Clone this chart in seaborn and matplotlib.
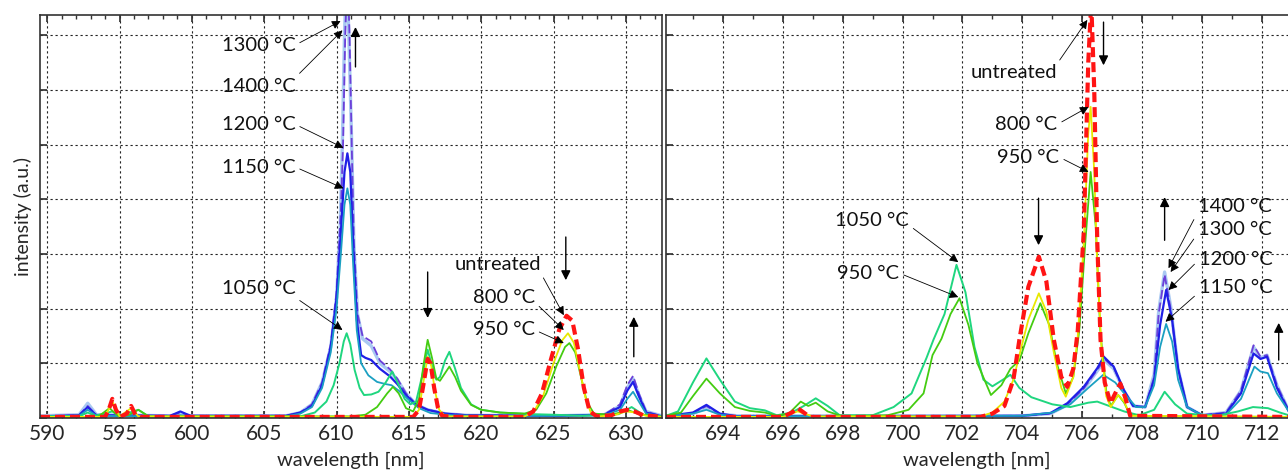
import pandas as pd
import matplotlib
matplotlib.use("Agg")
import matplotlib.pyplot as plt
from matplotlib.ticker import MultipleLocator
import seaborn as sns

# ---- spectra: (wavelength nm, intensity a.u.) ----
left_untreated = [(589.5, 0.02), (594.0, 0.02), (594.25, 0.15), (594.5, 0.35), (594.75, 0.15), (595.05, 0.02),
                  (595.5, 0.08), (595.8, 0.22), (596.1, 0.06), (596.4, 0.02), (615.3, 0.02), (615.7, 0.15),
                  (616.0, 0.6), (616.3, 1.08), (616.5, 1.0), (616.75, 0.55), (617.0, 0.2), (617.3, 0.04),
                  (618.0, 0.02), (623.0, 0.02), (623.6, 0.12), (624.2, 0.45), (624.8, 1.05), (625.4, 1.62),
                  (625.9, 1.87), (626.3, 1.78), (626.7, 1.25), (627.1, 0.55), (627.5, 0.12), (628.0, 0.03),
                  (629.0, 0.05), (629.6, 0.12), (630.1, 0.15), (630.6, 0.12), (631.2, 0.05), (632.5, 0.02)]
left_800 = [(589.5, 0.02), (594.0, 0.02), (594.5, 0.3), (595.0, 0.03), (595.8, 0.18), (596.3, 0.03),
            (615.3, 0.02), (615.7, 0.15), (616.0, 0.65), (616.3, 1.12), (616.55, 0.95), (616.8, 0.5),
            (617.1, 0.15), (617.5, 0.03), (623.0, 0.03), (623.6, 0.1), (624.3, 0.42), (625.0, 1.0),
            (625.6, 1.42), (626.0, 1.55), (626.4, 1.38), (626.8, 0.9), (627.2, 0.38), (627.6, 0.08),
            (628.2, 0.03), (629.3, 0.06), (630.0, 0.12), (630.7, 0.1), (631.4, 0.04), (632.5, 0.02)]
left_950 = [(589.5, 0.02), (593.5, 0.02), (594.3, 0.18), (594.9, 0.04), (595.6, 0.05), (596.3, 0.15),
            (597.0, 0.03), (611.0, 0.03), (612.0, 0.06), (612.8, 0.2), (613.5, 0.45), (613.9, 0.57),
            (614.3, 0.45), (614.8, 0.18), (615.3, 0.12), (615.7, 0.35), (616.0, 0.95), (616.3, 1.43),
            (616.6, 1.1), (616.9, 0.72), (617.15, 0.68), (617.5, 0.82), (617.8, 0.94), (618.2, 0.75),
            (618.6, 0.5), (619.3, 0.24), (620.0, 0.15), (621.3, 0.1), (623.0, 0.08), (623.8, 0.15),
            (624.5, 0.45), (625.2, 0.95), (625.8, 1.3), (626.1, 1.37), (626.5, 1.2), (626.9, 0.75),
            (627.3, 0.3), (627.8, 0.08), (629.0, 0.06), (630.2, 0.14), (631.0, 0.06), (632.5, 0.02)]
left_1050 = [(589.5, 0.03), (592.3, 0.04), (592.8, 0.1), (593.3, 0.04), (594.5, 0.12), (595.0, 0.04),
             (596.3, 0.15), (597.0, 0.03), (607.5, 0.03), (608.5, 0.1), (609.3, 0.3), (609.8, 0.6),
             (610.2, 1.0), (610.5, 1.4), (610.7, 1.55), (610.95, 1.35), (611.25, 0.88), (611.6, 0.55),
             (611.9, 0.42), (612.4, 0.43), (612.9, 0.48), (613.4, 0.65), (613.85, 0.85), (614.3, 0.6),
             (614.7, 0.35), (615.1, 0.25), (615.5, 0.3), (615.9, 0.75), (616.3, 1.25), (616.6, 0.95),
             (616.9, 0.7), (617.15, 0.75), (617.5, 1.05), (617.8, 1.21), (618.2, 0.9), (618.6, 0.55),
             (619.3, 0.25), (620.0, 0.15), (621.3, 0.1), (623.5, 0.07), (625.0, 0.06), (627.0, 0.04),
             (629.5, 0.07), (630.4, 0.2), (631.2, 0.06), (632.5, 0.03)]
left_1150 = [(589.5, 0.03), (592.2, 0.04), (592.8, 0.15), (593.4, 0.04), (598.5, 0.03), (599.2, 0.05),
             (599.9, 0.03), (606.5, 0.03), (607.5, 0.08), (608.3, 0.2), (609.0, 0.55), (609.6, 1.2),
             (610.0, 2.0), (610.3, 3.0), (610.55, 3.9), (610.75, 4.2), (610.95, 3.9), (611.15, 2.8),
             (611.4, 1.6), (611.7, 1.0), (612.2, 0.78), (612.8, 0.66), (613.4, 0.62), (613.8, 0.6),
             (614.3, 0.5), (615.0, 0.33), (615.7, 0.18), (616.5, 0.09), (618.0, 0.05), (620.0, 0.04),
             (625.0, 0.04), (628.5, 0.05), (629.6, 0.15), (630.1, 0.35), (630.5, 0.48), (630.9, 0.3),
             (631.4, 0.08), (632.5, 0.03)]
left_1200 = [(589.5, 0.03), (592.2, 0.05), (592.8, 0.2), (593.4, 0.05), (598.5, 0.04), (599.2, 0.12),
             (599.9, 0.04), (606.5, 0.04), (607.5, 0.1), (608.3, 0.22), (609.0, 0.6), (609.6, 1.3),
             (610.0, 2.2), (610.3, 3.4), (610.55, 4.5), (610.75, 4.84), (610.95, 4.5), (611.15, 3.2),
             (611.4, 1.8), (611.7, 1.15), (612.0, 1.1), (612.4, 1.06), (613.0, 0.9), (613.7, 0.76),
             (614.2, 0.62), (614.8, 0.42), (615.5, 0.24), (616.3, 0.15), (617.5, 0.08), (619.0, 0.05),
             (625.0, 0.04), (628.5, 0.06), (629.6, 0.2), (630.1, 0.5), (630.5, 0.66), (630.9, 0.4),
             (631.4, 0.1), (632.5, 0.03)]
left_1300 = [(589.5, 0.03), (592.2, 0.05), (592.8, 0.22), (593.4, 0.05), (598.5, 0.04), (599.2, 0.1),
             (599.9, 0.04), (606.5, 0.04), (607.5, 0.1), (608.3, 0.25), (609.0, 0.65), (609.6, 1.35),
             (610.0, 2.3), (610.3, 3.8), (610.45, 5.0), (610.6, 7.0), (610.75, 8.2), (610.9, 7.0),
             (611.05, 5.0), (611.2, 3.2), (611.45, 1.9), (611.8, 1.5), (612.4, 1.4), (613.0, 1.05),
             (613.7, 0.89), (614.2, 0.72), (614.8, 0.45), (615.5, 0.25), (616.3, 0.15), (617.5, 0.08),
             (619.0, 0.05), (625.0, 0.04), (628.5, 0.06), (629.6, 0.25), (630.1, 0.6), (630.5, 0.77),
             (630.9, 0.45), (631.4, 0.12), (632.5, 0.03)]
left_1400 = [(589.5, 0.04), (592.2, 0.06), (592.8, 0.27), (593.4, 0.06), (598.5, 0.04), (599.2, 0.08),
             (599.9, 0.04), (606.5, 0.04), (607.5, 0.1), (608.3, 0.25), (609.0, 0.65), (609.6, 1.3),
             (610.0, 2.2), (610.25, 3.5), (610.4, 5.0), (610.55, 7.0), (610.7, 8.3), (610.85, 7.0),
             (611.05, 5.0), (611.2, 3.2), (611.45, 1.9), (611.8, 1.45), (612.4, 1.32), (613.0, 1.0),
             (613.7, 0.85), (614.2, 0.7), (614.8, 0.45), (615.5, 0.25), (616.3, 0.15), (617.5, 0.08),
             (619.0, 0.05), (625.0, 0.04), (628.5, 0.06), (629.6, 0.22), (630.1, 0.55), (630.5, 0.72),
             (630.9, 0.42), (631.4, 0.12), (632.5, 0.04)]

right_untreated = [(692.1, 0.02), (696.0, 0.02), (696.3, 0.1), (696.5, 0.18), (696.7, 0.1), (696.9, 0.02),
                   (702.6, 0.02), (703.0, 0.08), (703.4, 0.22), (703.7, 0.7), (703.9, 1.43), (704.2, 2.4),
                   (704.55, 2.95), (704.8, 2.5), (705.05, 1.43), (705.3, 0.75), (705.5, 0.57), (705.7, 0.9),
                   (705.85, 1.6), (706.05, 3.4), (706.2, 6.5), (706.3, 7.6), (706.4, 6.0), (706.5, 3.25),
                   (706.61, 1.43), (706.75, 0.65), (706.94, 0.27), (707.1, 0.45), (707.27, 0.63),
                   (707.45, 0.35), (707.6, 0.04), (712.9, 0.02)]
right_800 = [(692.1, 0.02), (696.0, 0.02), (696.5, 0.12), (697.0, 0.03), (702.6, 0.03), (703.0, 0.1),
             (703.4, 0.3), (703.7, 0.7), (703.9, 1.15), (704.2, 1.8), (704.55, 2.28), (704.8, 1.95),
             (705.05, 1.2), (705.3, 0.55), (705.45, 0.39), (705.7, 0.75), (705.85, 1.5), (706.05, 3.2),
             (706.2, 5.2), (706.28, 5.69), (706.4, 4.5), (706.5, 2.8), (706.65, 1.2), (706.8, 0.4),
             (706.95, 0.2), (707.2, 0.42), (707.4, 0.3), (707.6, 0.04), (712.9, 0.02)]
right_950 = [(692.1, 0.04), (692.6, 0.1), (693.0, 0.4), (693.45, 0.72), (693.9, 0.45), (694.4, 0.2),
             (694.9, 0.13), (695.4, 0.1), (695.8, 0.04), (696.2, 0.08), (696.6, 0.3), (696.85, 0.22),
             (697.1, 0.28), (697.5, 0.12), (698.0, 0.03), (699.5, 0.05), (700.2, 0.15), (700.7, 0.45),
             (701.0, 1.15), (701.3, 1.45), (701.6, 1.9), (701.9, 2.19), (702.2, 1.7), (702.5, 1.0),
             (702.95, 0.42), (703.3, 0.6), (703.6, 0.9), (703.9, 1.05), (704.2, 1.55), (704.6, 2.1),
             (704.9, 1.7), (705.15, 1.0), (705.45, 0.45), (705.7, 0.75), (705.9, 1.6), (706.1, 3.2),
             (706.28, 4.5), (706.45, 3.5), (706.6, 1.6), (706.8, 0.5), (706.95, 0.22), (707.2, 0.42),
             (707.4, 0.28), (707.6, 0.05), (708.3, 0.03), (712.9, 0.02)]
right_1050 = [(692.1, 0.04), (692.5, 0.12), (693.0, 0.65), (693.45, 1.09), (693.9, 0.7), (694.4, 0.3),
              (694.9, 0.18), (695.4, 0.14), (695.8, 0.05), (696.3, 0.1), (696.7, 0.22), (697.1, 0.36),
              (697.5, 0.22), (697.9, 0.05), (699.0, 0.05), (699.7, 0.2), (700.3, 0.45), (700.8, 1.1),
              (701.03, 1.43), (701.4, 1.9), (701.8, 2.8), (702.1, 2.3), (702.4, 1.3), (702.7, 0.7),
              (703.0, 0.58), (703.35, 0.7), (703.6, 0.79), (703.9, 0.55), (704.3, 0.38), (705.0, 0.25),
              (705.6, 0.2), (706.2, 0.28), (706.5, 0.3), (706.9, 0.22), (707.4, 0.12), (707.9, 0.05),
              (708.4, 0.15), (708.75, 0.48), (709.1, 0.25), (709.5, 0.08), (710.5, 0.04), (711.2, 0.12),
              (711.7, 0.2), (712.2, 0.18), (712.6, 0.1), (712.9, 0.05)]
right_1150 = [(692.1, 0.03), (693.0, 0.08), (693.45, 0.15), (693.9, 0.06), (694.5, 0.03), (704.0, 0.04),
              (705.0, 0.1), (705.6, 0.25), (706.2, 0.55), (706.7, 0.79), (707.1, 0.65), (707.4, 0.45),
              (707.8, 0.2), (708.1, 0.2), (708.4, 0.6), (708.6, 1.3), (708.8, 1.72), (709.0, 1.4),
              (709.2, 0.7), (709.5, 0.2), (710.0, 0.05), (710.8, 0.06), (711.3, 0.35), (711.75, 0.94),
              (711.95, 0.85), (712.2, 0.82), (712.5, 0.45), (712.9, 0.12)]
right_1200 = [(692.1, 0.03), (693.0, 0.1), (693.45, 0.24), (693.9, 0.08), (694.5, 0.03), (704.0, 0.04),
              (704.94, 0.09), (705.5, 0.27), (706.05, 0.57), (706.5, 0.91), (706.72, 1.12), (707.05, 0.94),
              (707.39, 0.51), (707.7, 0.22), (708.1, 0.2), (708.4, 0.7), (708.6, 1.7), (708.8, 2.34),
              (709.0, 1.8), (709.2, 0.9), (709.5, 0.2), (710.0, 0.05), (710.8, 0.08), (711.3, 0.45),
              (711.72, 1.18), (711.95, 1.08), (712.17, 1.12), (712.5, 0.55), (712.9, 0.12)]
right_1300 = [(692.1, 0.03), (693.0, 0.09), (693.45, 0.22), (693.9, 0.07), (694.5, 0.03), (704.0, 0.04),
              (704.94, 0.08), (705.5, 0.25), (706.05, 0.54), (706.5, 0.88), (706.75, 1.08), (707.05, 0.92),
              (707.39, 0.5), (707.7, 0.22), (708.1, 0.2), (708.4, 0.75), (708.55, 1.9), (708.75, 2.62),
              (708.95, 2.0), (709.2, 0.9), (709.5, 0.2), (710.0, 0.05), (710.8, 0.1), (711.3, 0.5),
              (711.72, 1.33), (711.95, 1.12), (712.17, 1.15), (712.5, 0.6), (712.9, 0.13)]
right_1400 = [(692.1, 0.04), (693.0, 0.08), (693.45, 0.2), (693.9, 0.07), (694.5, 0.04), (704.0, 0.04),
              (704.94, 0.08), (705.5, 0.24), (706.05, 0.52), (706.5, 0.86), (706.75, 1.05), (707.05, 0.9),
              (707.39, 0.5), (707.7, 0.22), (708.1, 0.2), (708.4, 0.8), (708.55, 1.95), (708.75, 2.67),
              (708.95, 2.05), (709.2, 0.9), (709.5, 0.2), (710.0, 0.05), (710.8, 0.1), (711.3, 0.5),
              (711.72, 1.3), (711.95, 1.1), (712.17, 1.15), (712.5, 0.6), (712.9, 0.13)]

series_names = ["1400 °C", "1300 °C", "1200 °C", "1150 °C", "1050 °C", "950 °C", "800 °C", "untreated"]
left_data = [left_1400, left_1300, left_1200, left_1150, left_1050, left_950, left_800, left_untreated]
right_data = [right_1400, right_1300, right_1200, right_1150, right_1050, right_950, right_800, right_untreated]

# line look per series (drawing order = list order)
styles = {
    "1400 °C": dict(color="#a9c9f2", lw=2.4, dashes=None),
    "1300 °C": dict(color="#6b3fd9", lw=1.3, dashes=(5, 2)),
    "1200 °C": dict(color="#1f1fe6", lw=1.6, dashes=None),
    "1150 °C": dict(color="#1ba0c2", lw=1.3, dashes=None),
    "1050 °C": dict(color="#1fd67f", lw=1.4, dashes=None),
    "950 °C": dict(color="#44cc11", lw=1.3, dashes=None),
    "800 °C": dict(color="#e8e800", lw=1.3, dashes=None),
    "untreated": dict(color="#ff1414", lw=3.0, dashes=(2.4, 1.2)),
}

# annotations: (text, text position, arrow tip, arrow start on text box)
left_labels = [
    ("1300 °C", (604.6, 6.82), (610.28, 7.26), (1.0, 0.5)),
    ("1400 °C", (604.6, 6.07), (610.41, 7.09), (1.0, 1.0)),
    ("1200 °C", (604.6, 5.37), (610.48, 4.94), (1.0, 0.5)),
    ("1150 °C", (604.6, 4.59), (610.48, 4.20), (1.0, 0.5)),
    ("1050 °C", (604.6, 2.36), (610.41, 1.61), (1.0, 0.0)),
    ("untreated", (621.14, 2.80), (625.71, 1.88), (1.0, 0.0)),
    ("800 °C", (621.56, 2.21), (625.71, 1.61), (1.0, 0.2)),
    ("950 °C", (621.56, 1.61), (625.71, 1.37), (1.0, 0.5)),
]
left_moves = [((611.31, 6.42), (611.31, 7.15)), ((616.3, 2.67), (616.3, 1.83)),
              ((625.85, 3.31), (625.85, 2.52)), ((630.55, 1.12), (630.55, 1.85))]
right_labels = [
    ("1050 °C", (698.98, 3.62), (701.86, 2.85), (1.0, 0.2)),
    ("950 °C", (698.85, 2.65), (701.86, 2.21), (1.0, 0.5)),
    ("untreated", (703.70, 6.31), (706.17, 7.28), (1.0, 1.0)),
    ("800 °C", (704.13, 5.37), (706.21, 5.69), (1.0, 0.5)),
    ("950 °C", (704.20, 4.77), (706.21, 4.50), (1.0, 0.5)),
    ("1400 °C", (711.09, 3.86), (708.88, 2.74), (0.0, 0.2)),
    ("1300 °C", (711.09, 3.44), (708.95, 2.67), (0.0, 0.3)),
    ("1200 °C", (711.12, 2.89), (708.88, 2.34), (0.0, 0.5)),
    ("1150 °C", (711.12, 2.39), (708.78, 1.76), (0.0, 0.2)),
]
right_moves = [((706.71, 7.24), (706.71, 6.45)), ((704.54, 4.02), (704.54, 3.16)),
               ((708.75, 3.25), (708.75, 4.04)), ((712.56, 1.06), (712.56, 1.74))]

sns.set_theme(style="white")
plt.rcParams["font.family"] = ["Lato", "DejaVu Sans"]


def to_frame(data_list):
    rows = []
    for name, pts in zip(series_names, data_list):
        for nm, val in pts:
            rows.append({"wavelength": nm, "intensity": val, "series": name})
    return pd.DataFrame(rows)


def draw_panel(ax, df, xlim, major, labels, moves):
    for name in series_names:
        st = styles[name]
        sub = df[df["series"] == name]
        sns.lineplot(data=sub, x="wavelength", y="intensity", ax=ax, color=st["color"],
                     lw=st["lw"], sort=False, estimator=None, legend=False)
        line = ax.lines[-1]
        if st["dashes"] is not None:
            line.set_dashes(st["dashes"])
    ax.set_xlim(*xlim)
    ax.set_ylim(0, 7.37)
    ax.xaxis.set_major_locator(MultipleLocator(major))
    ax.xaxis.set_minor_locator(MultipleLocator(1))
    ax.yaxis.set_major_locator(MultipleLocator(1))
    ax.tick_params(axis="both", which="both", direction="in", top=True, right=False,
                   bottom=True, left=True, labelleft=False, labelsize=15, pad=4, color="#333333")
    ax.tick_params(which="major", length=5)
    ax.tick_params(which="minor", length=3)
    ax.grid(True, which="major", color="#222222", linestyle=(0, (2, 2.5)), lw=0.8)
    for sp in ax.spines.values():
        sp.set_color("#333333")
        sp.set_linewidth(1.2)
    ax.set_xlabel("wavelength [nm]", fontsize=14.5, labelpad=6)
    ax.set_ylabel("")
    for txt, xy_text, xy_tip, rel in labels:
        ax.annotate(txt, xy=xy_tip, xytext=xy_text, ha="center", va="center", fontsize=14.5,
                    color="#111111",
                    arrowprops=dict(arrowstyle="-|>", color="black", lw=0.6, relpos=rel,
                                    shrinkA=1, shrinkB=0, mutation_scale=13))
    for start, end in moves:
        ax.annotate("", xy=end, xytext=start,
                    arrowprops=dict(arrowstyle="-|>", color="black", lw=1.0,
                                    shrinkA=0, shrinkB=0, mutation_scale=14))


fig = plt.figure(figsize=(12.88, 4.70), dpi=100)
ax1 = fig.add_axes([40 / 1288, 52 / 470, 622 / 1288, 403 / 470])
ax2 = fig.add_axes([666 / 1288, 52 / 470, 622 / 1288, 403 / 470])

draw_panel(ax1, to_frame(left_data), (589.5, 632.5), 5, left_labels, left_moves)
draw_panel(ax2, to_frame(right_data), (692.1, 712.87), 2, right_labels, right_moves)
ax2.spines["right"].set_visible(False)
ax1.set_ylabel("intensity (a.u.)", fontsize=14, labelpad=6)

fig.savefig("out.png", dpi=100)
